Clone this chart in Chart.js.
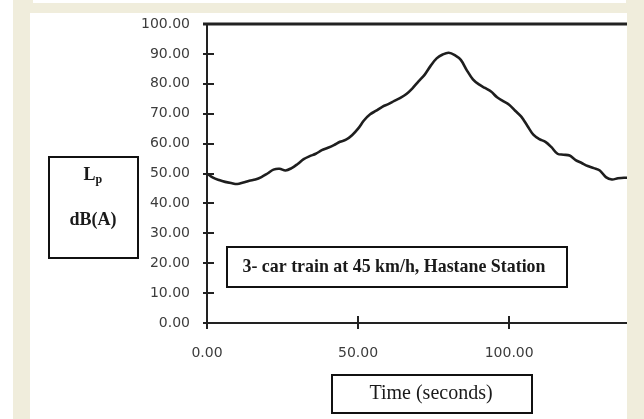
<!DOCTYPE html>
<html>
<head>
<meta charset="utf-8">
<script src="https://cdn.jsdelivr.net/npm/chart.js@4.4.1/dist/chart.umd.min.js"></script>
<style>
  html, body { margin: 0; padding: 0; }
  body { width: 644px; height: 419px; background: #fff; position: relative; overflow: hidden; }
  .beige { position: absolute; left: 13px; top: 0; width: 631px; height: 419px; background: #f0eddc; }
  .strip { position: absolute; left: 33px; top: 0; width: 593px; height: 3px; background: #fff; }
  .panel { position: absolute; left: 30px; top: 13px; width: 597px; height: 406px; background: #fff; }
  canvas { display: block; }
</style>
</head>
<body>
<div class="beige"></div>
<div class="strip"></div>
<div class="panel"><canvas id="chart" width="597" height="406"></canvas></div>
<script>
// time in seconds, sound level in dB(A)
const time_s = [0, 2, 4, 6, 8, 10, 12, 14, 16, 18, 20, 22, 24, 26, 28, 30, 32, 34, 36, 38,
    40, 42, 44, 46, 48, 50, 52, 54, 56, 58, 60, 62, 64, 66, 68, 70, 72, 74, 76, 78,
    80, 82, 84, 86, 88, 90, 92, 94, 96, 98, 100, 102, 104, 106, 108, 110, 112, 114, 116, 118,
    120, 122, 124, 126, 128, 130, 132, 134, 136, 138, 140];
const level_dba = [50.0, 48.6, 47.8, 47.2, 46.8, 46.5, 47.0, 47.6, 48.0, 48.8, 50.0, 51.3, 51.6, 51.0, 51.8, 53.2, 54.8, 55.8, 56.6, 57.8,
    58.6, 59.5, 60.6, 61.3, 62.8, 65.0, 67.8, 69.8, 71.0, 72.3, 73.2, 74.3, 75.3, 76.6, 78.5, 80.8, 83.0, 86.0, 88.5, 89.8,
    90.4, 89.6, 88.0, 84.5, 81.5, 79.8, 78.6, 77.4, 75.5, 74.2, 73.0, 71.0, 69.0, 66.0, 63.0, 61.5, 60.6, 58.8, 56.6, 56.3,
    56.0, 54.5, 53.5, 52.5, 51.8, 51.0, 48.8, 48.0, 48.4, 48.6, 48.5];

const y_label_lines = ["L", "dB(A)"];
const note_text = "3- car train at 45 km/h, Hastane Station";
const x_title = "Time (seconds)";

const points = time_s.map((t, i) => ({ x: t, y: level_dba[i] }));

const boxText = (ctx, text, cx, cy, font, maxW) => {
    ctx.font = font;
    ctx.textAlign = 'center';
    ctx.textBaseline = 'middle';
    ctx.fillText(text, cx, cy, maxW);
};

const framePlugin = {
    id: 'frame',
    beforeDatasetsDraw(chart) {
        const ctx = chart.ctx;
        const xs = chart.scales.x, ys = chart.scales.y;
        const a = chart.chartArea;
        ctx.save();
        ctx.strokeStyle = '#222';
        ctx.lineWidth = 2;
        // axes
        ctx.beginPath();
        ctx.moveTo(a.left, a.top - 1);
        ctx.lineTo(a.left, a.bottom + 1);
        ctx.moveTo(a.left - 1, a.bottom);
        ctx.lineTo(a.right, a.bottom);
        ctx.stroke();
        // top line at 100
        ctx.lineWidth = 3;
        ctx.beginPath();
        ctx.moveTo(a.left - 4, a.top);
        ctx.lineTo(a.right, a.top);
        ctx.stroke();
        // tick marks crossing axes
        ctx.lineWidth = 2;
        ctx.beginPath();
        ys.ticks.forEach(t => {
            const py = Math.round(ys.getPixelForValue(t.value));
            ctx.moveTo(a.left - 4, py);
            ctx.lineTo(a.left + 7, py);
        });
        xs.ticks.forEach(t => {
            const px = Math.round(xs.getPixelForValue(t.value));
            ctx.moveTo(px, a.bottom - 7);
            ctx.lineTo(px, a.bottom + 6);
        });
        ctx.stroke();
        ctx.restore();
    },
    afterDraw(chart) {
        const ctx = chart.ctx;
        ctx.save();
        ctx.strokeStyle = '#111';
        ctx.fillStyle = '#fff';
        ctx.lineWidth = 2;

        // L_p dB(A) box
        ctx.fillRect(19, 144, 89, 101);
        ctx.strokeRect(19, 144, 89, 101);
        ctx.fillStyle = '#1a1a1a';
        ctx.font = 'bold 18px "Liberation Serif", serif';
        ctx.textBaseline = 'middle';
        ctx.textAlign = 'left';
        const lw = ctx.measureText(y_label_lines[0]).width;
        ctx.fillText(y_label_lines[0], 63 - (lw + 7) / 2, 162);
        ctx.font = 'bold 12px "Liberation Serif", serif';
        ctx.fillText('p', 63 - (lw + 7) / 2 + lw, 167);
        boxText(ctx, y_label_lines[1], 63, 207, 'bold 18px "Liberation Serif", serif', 52);

        // note box
        ctx.fillStyle = '#fff';
        ctx.fillRect(197, 234, 340, 40);
        ctx.strokeRect(197, 234, 340, 40);
        ctx.fillStyle = '#1a1a1a';
        boxText(ctx, note_text, 364, 254, 'bold 19px "Liberation Serif", serif', 303);

        // x title box
        ctx.fillStyle = '#fff';
        ctx.fillRect(302, 362, 200, 38);
        ctx.strokeRect(302, 362, 200, 38);
        ctx.fillStyle = '#1a1a1a';
        boxText(ctx, x_title, 401, 381, '20px "Liberation Serif", serif', 128);
        ctx.restore();
    }
};

const tickFont = { family: '"DejaVu Sans", sans-serif', size: 14 };

new Chart(document.getElementById('chart'), {
    type: 'line',
    data: {
        datasets: [{
            data: points,
            borderColor: '#1e1e1e',
            borderWidth: 2.6,
            pointRadius: 0,
            tension: 0.35,
            fill: false
        }]
    },
    options: {
        responsive: false,
        animation: false,
        devicePixelRatio: 1,
        layout: { padding: { left: 0, right: 0, top: 11, bottom: 0 } },
        plugins: { legend: { display: false }, tooltip: { enabled: false } },
        scales: {
            x: {
                type: 'linear',
                min: 0,
                max: 139,
                grid: { display: false, drawTicks: false },
                border: { display: false },
                ticks: {
                    stepSize: 50,
                    includeBounds: false,
                    maxRotation: 0,
                    padding: 22,
                    color: '#3c3c3c',
                    font: tickFont,
                    callback: v => Number(v).toFixed(2)
                },
                afterFit: s => { s.height = 96; s.paddingLeft = 0; s.paddingRight = 0; }
            },
            y: {
                min: 0,
                max: 100,
                grid: { display: false, drawTicks: false },
                border: { display: false },
                ticks: {
                    stepSize: 10,
                    padding: 17,
                    color: '#3c3c3c',
                    font: tickFont,
                    callback: v => Number(v).toFixed(2)
                },
                afterFit: s => { s.width = 177; s.paddingTop = 0; s.paddingBottom = 0; }
            }
        }
    },
    plugins: [framePlugin]
});
</script>
</body>
</html>
